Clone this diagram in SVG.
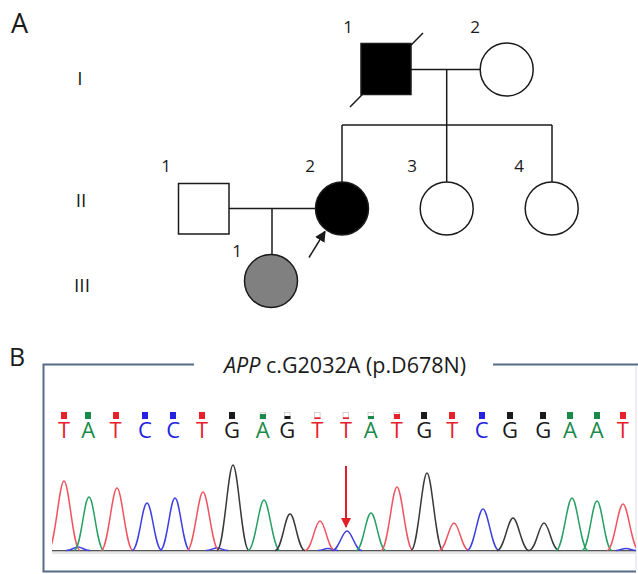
<svg xmlns="http://www.w3.org/2000/svg" width="638" height="574" viewBox="0 0 638 574">
<style>
text{font-family:"Open Sans","Noto Sans","Liberation Sans",sans-serif;fill:#1a1a1a}
.lbl{font-size:17px;text-anchor:middle}
.gen{font-size:19px;text-anchor:middle}
.pl{font-size:27px}
.ln{stroke:#1a1a1a;stroke-width:1.5;fill:none}
.sym{stroke:#1a1a1a;stroke-width:1.5}
.base{font-size:22px;text-anchor:middle}
.T{fill:#e8202a}.A{fill:#1a8a4a}.C{fill:#2222e0}.G{fill:#1a1a1a}
.tr{fill:none;stroke-width:1.5;stroke-linejoin:round}
.tT{stroke:#ee5560}.tA{stroke:#27a064}.tC{stroke:#3f3fe0}.tG{stroke:#3a3a3a}
.box{stroke:#566b8a;stroke-width:2;fill:none}
</style>
<defs>
<marker id="ah" viewBox="0 0 10 10" refX="9" refY="5" markerWidth="11" markerHeight="11" markerUnits="userSpaceOnUse" orient="auto"><path d="M0,0 L10,5 L0,10 z" fill="#1a1a1a"/></marker>
<marker id="ahr" viewBox="0 0 10 10" refX="9" refY="5" markerWidth="12" markerHeight="10" markerUnits="userSpaceOnUse" orient="auto"><path d="M0,0 L10,5 L0,10 z" fill="#e21e26"/></marker>
<clipPath id="cc"><rect x="52" y="440" width="584" height="115"/></clipPath>
</defs>

<text class="pl" x="11" y="33">A</text>
<text class="pl" x="9" y="366" style="font-size:25px">B</text>

<g id="gen-labels">
<text class="gen" x="80" y="85">I</text>
<text class="gen" x="81" y="207">II</text>
<text class="gen" x="82" y="292">III</text>
</g>

<g id="connectors">
<line class="ln" x1="411" y1="69.5" x2="480" y2="69.5"/>
<line class="ln" x1="446.7" y1="69.5" x2="446.7" y2="125"/>
<line class="ln" x1="342" y1="125" x2="552" y2="125"/>
<line class="ln" x1="342" y1="125" x2="342" y2="182"/>
<line class="ln" x1="446.7" y1="125" x2="446.7" y2="182"/>
<line class="ln" x1="552" y1="125" x2="552" y2="182"/>
<line class="ln" x1="229" y1="208.5" x2="316" y2="208.5"/>
<line class="ln" x1="272" y1="208.5" x2="272" y2="254.5"/>
<line class="ln" x1="309" y1="257.5" x2="325" y2="231.5" marker-end="url(#ah)"/>
</g>

<g id="I-1">
<line class="ln" x1="350" y1="107" x2="423" y2="33"/>
<rect class="sym" x="361" y="43.5" width="50" height="51" fill="#000"/>
<text class="lbl" x="348" y="33">1</text>
</g>
<g id="I-2">
<circle class="sym" cx="506.7" cy="69.5" r="26.5" fill="#fff"/>
<text class="lbl" x="475" y="33">2</text>
</g>
<g id="II-1">
<rect class="sym" x="178.5" y="183.5" width="50.5" height="50.5" fill="#fff"/>
<text class="lbl" x="166" y="172">1</text>
</g>
<g id="II-2">
<circle class="sym" cx="342" cy="208.5" r="26.5" fill="#000"/>
<text class="lbl" x="310" y="172">2</text>
</g>
<g id="II-3">
<circle class="sym" cx="446.7" cy="208.5" r="26.5" fill="#fff"/>
<text class="lbl" x="412" y="172">3</text>
</g>
<g id="II-4">
<circle class="sym" cx="551.7" cy="208.5" r="26.5" fill="#fff"/>
<text class="lbl" x="519" y="172">4</text>
</g>
<g id="III-1">
<circle class="sym" cx="271" cy="281" r="26.5" fill="#808080"/>
<text class="lbl" x="237" y="257">1</text>
</g>

<g id="panelB">
<path class="box" d="M194,364.5 H43.5 V571.5 H636"/>
<line class="box" x1="493" y1="364.5" x2="638" y2="364.5"/>
<line x1="636" y1="366" x2="636" y2="570" stroke="#d8dde5" stroke-width="1"/>
<text x="224" y="373" style="font-size:21.5px"><tspan font-style="italic">APP</tspan> c.G2032A (p.D678N)</text>

<g id="quality">
<g fill="#e8202a"><rect x="61" y="412" width="6" height="7"/><rect x="113" y="412" width="6" height="7"/><rect x="199" y="412" width="6" height="7"/><rect x="449" y="412" width="6" height="7"/><rect x="620" y="412" width="6" height="7"/></g>
<g fill="#1a8a4a"><rect x="85" y="412" width="6" height="7"/><rect x="567" y="412" width="6" height="7"/><rect x="594" y="412" width="6" height="7"/></g>
<g fill="#2222e0"><rect x="142" y="412" width="6" height="7"/><rect x="170" y="412" width="6" height="7"/><rect x="479" y="412" width="6" height="7"/></g>
<g fill="#1a1a1a"><rect x="229" y="412" width="6" height="7"/><rect x="421" y="412" width="6" height="7"/><rect x="507" y="412" width="6" height="7"/><rect x="540" y="412" width="6" height="7"/></g>
<g fill="#fff" stroke="#c8c8c8" stroke-width="0.8"><rect x="260" y="412.4" width="5.6" height="6.4"/><rect x="284.5" y="412.4" width="5.6" height="6.4"/><rect x="314.5" y="412.4" width="5.6" height="6.4"/><rect x="343" y="412.4" width="5.6" height="6.4"/><rect x="368" y="412.4" width="5.6" height="6.4"/><rect x="394" y="412.4" width="5.6" height="6.4"/></g>
<rect x="260" y="414" width="6" height="5" fill="#1a8a4a"/>
<rect x="284.5" y="416" width="6" height="3" fill="#1a1a1a"/>
<rect x="314.5" y="417.3" width="6" height="1.7" fill="#e8202a"/>
<rect x="343" y="417.3" width="6" height="1.7" fill="#e8202a"/>
<rect x="368" y="416" width="6" height="3" fill="#1a8a4a"/>
<rect x="394" y="414" width="6" height="5" fill="#e8202a"/>
</g>

<g id="bases">
<text class="base T" x="64" y="438">T</text>
<text class="base A" x="88.3" y="438">A</text>
<text class="base T" x="115.5" y="438">T</text>
<text class="base C" x="145" y="438">C</text>
<text class="base C" x="173.3" y="438">C</text>
<text class="base T" x="202" y="438">T</text>
<text class="base G" x="232" y="438">G</text>
<text class="base A" x="262.7" y="438">A</text>
<text class="base G" x="287.3" y="438">G</text>
<text class="base T" x="317.3" y="438">T</text>
<text class="base T" x="346" y="438">T</text>
<text class="base A" x="370.7" y="438">A</text>
<text class="base T" x="396.7" y="438">T</text>
<text class="base G" x="424.3" y="438">G</text>
<text class="base T" x="452.3" y="438">T</text>
<text class="base C" x="481.7" y="438">C</text>
<text class="base G" x="510" y="438">G</text>
<text class="base G" x="543.3" y="438">G</text>
<text class="base A" x="570" y="438">A</text>
<text class="base A" x="596.7" y="438">A</text>
<text class="base T" x="622.7" y="438">T</text>
</g>

<g id="trace" clip-path="url(#cc)">
<rect x="52" y="551" width="584" height="3" fill="#e6e6e6"/>
<line x1="52" y1="550.7" x2="636" y2="550.7" stroke="#555" stroke-width="1.3"/>
<path class="tr tC" d="M66,550.5 C72,550.5 74,547 78,547 C82,547 84,550.5 90,550.5"/>
<path class="tr tC" d="M206,550.5 C211,550.5 213,548 217,548 C221,548 223,550.5 228,550.5"/>
<path class="tr tC" d="M318,550.5 C323,550.5 324,548.5 328,548.5 C332,548.5 333,550.5 338,550.5"/>
<path class="tr tC" d="M616,550.5 C620,550.5 622,548.5 626,548.5 C630,548.5 632,550.5 636,550.5"/>
<path class="tr tT" d="M48,550.5 C55,550.5 59,481 64,481 C69,481 73,550.5 80,550.5"/>
<path class="tr tA" d="M74,550.5 C81,550.5 84,497 89,497 C94,497 97,550.5 104,550.5"/>
<path class="tr tT" d="M101,550.5 C108,550.5 112,488 117,488 C122,488 126,550.5 133,550.5"/>
<path class="tr tC" d="M132,550.5 C139,550.5 142,503 147,503 C152,503 155,550.5 162,550.5"/>
<path class="tr tC" d="M160,550.5 C167,550.5 170,498 175,498 C180,498 183,550.5 190,550.5"/>
<path class="tr tT" d="M187,550.5 C194,550.5 198,492 203,492 C208,492 212,550.5 219,550.5"/>
<path class="tr tG" d="M217,550.5 C224,550.5 228,465 233,465 C238,465 242,550.5 249,550.5"/>
<path class="tr tA" d="M248,550.5 C255,550.5 259,500 264,500 C269,500 273,550.5 280,550.5"/>
<path class="tr tG" d="M275,550.5 C282,550.5 285,514 290,514 C295,514 298,550.5 305,550.5"/>
<path class="tr tT" d="M305,550.5 C312,550.5 315,521 320,521 C325,521 328,550.5 335,550.5"/>
<path class="tr tC" d="M332,550.5 C339,550.5 342,531 347,531 C352,531 355,550.5 362,550.5"/>
<path class="tr tA" d="M356,550.5 C363,550.5 366,513 371,513 C376,513 379,550.5 386,550.5"/>
<path class="tr tT" d="M381,550.5 C388,550.5 392,487 397,487 C402,487 406,550.5 413,550.5"/>
<path class="tr tG" d="M411,550.5 C418,550.5 422,473 427,473 C432,473 436,550.5 443,550.5"/>
<path class="tr tT" d="M439,550.5 C446,550.5 449,523 454,523 C459,523 462,550.5 469,550.5"/>
<path class="tr tC" d="M467,550.5 C474,550.5 478,509 483,509 C488,509 492,550.5 499,550.5"/>
<path class="tr tG" d="M497,550.5 C504,550.5 508,518 513,518 C518,518 522,550.5 529,550.5"/>
<path class="tr tG" d="M529,550.5 C536,550.5 539,523 544,523 C549,523 552,550.5 559,550.5"/>
<path class="tr tA" d="M556,550.5 C563,550.5 567,498 572,498 C577,498 581,550.5 588,550.5"/>
<path class="tr tA" d="M582,550.5 C589,550.5 592,501 597,501 C602,501 605,550.5 612,550.5"/>
<path class="tr tT" d="M607,550.5 C614,550.5 618,504 623,504 C628,504 632,550.5 639,550.5"/>
</g>
<line x1="346" y1="466" x2="346" y2="527" stroke="#e21e26" stroke-width="2" marker-end="url(#ahr)"/>
</g>
</svg>
